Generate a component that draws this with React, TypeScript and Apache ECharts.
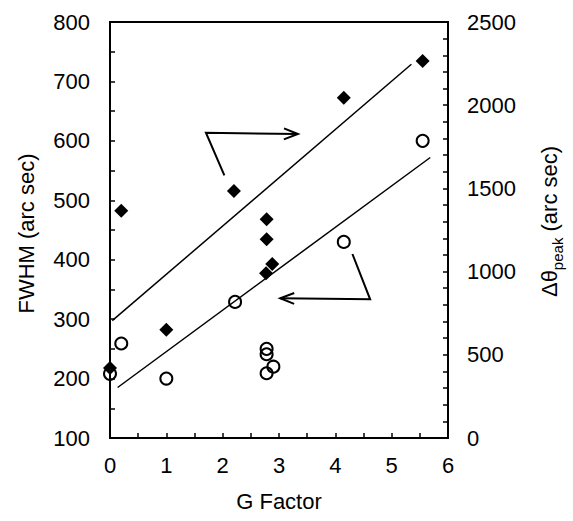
import React, { useEffect, useRef } from "react";
import * as echarts from "echarts";

// G factor (x) and values
const diamondG = [0, 0.2, 1.0, 2.2, 2.78, 2.78, 2.88, 2.77, 4.15, 5.55];
const diamondPeak = [420, 1365, 650, 1485, 1315, 1195, 1045, 990, 2045, 2265];
const circleG = [0, 0.2, 1.0, 2.22, 2.78, 2.78, 2.9, 2.78, 4.15, 5.55];
const circleFwhm = [208, 259, 200, 329, 250, 241, 220, 209, 430, 600];

// fit lines
const fitPeakG = [0.04, 5.35];
const fitPeakV = [705, 2246];
const fitFwhmG = [0.135, 5.685];
const fitFwhmV = [185, 572];

// annotation arrows (in G / FWHM data units)
const arrowUpper = [[2.03, 542], [1.703, 613.7], [3.336, 611.5]];
const arrowLower = [[4.303, 409.6], [4.618, 333.4], [3.021, 335.1]];

const FONT = "Liberation Sans, Arial, sans-serif";

export default function App() {
  const ref = useRef<HTMLDivElement>(null);
  useEffect(() => {
    if (!ref.current) return;
    const chart = echarts.init(ref.current, null, { renderer: "svg" });
    const tickStyle = { color: "#000", width: 1.5 };
    const axisBase = {
      type: "value" as const,
      axisLine: { show: true, onZero: false, lineStyle: { color: "#000", width: 2 } },
      axisTick: { show: true, inside: true, length: 5, lineStyle: tickStyle },
      splitLine: { show: false },
      minorSplitLine: { show: false },
      nameTextStyle: { fontFamily: FONT, fontSize: 22, color: "#000" },
    };
    const plain = (v: number) => String(v);
    const labelBase = { fontFamily: FONT, fontSize: 22, color: "#000", formatter: plain };
    chart.setOption({
      animation: false,
      backgroundColor: "#fff",
      grid: { left: 110, right: 120, top: 22, bottom: 83, show: true, borderColor: "#000", borderWidth: 2, containLabel: false },
      xAxis: {
        ...axisBase,
        min: 0,
        max: 6,
        interval: 1,
        minorTick: { show: true, splitNumber: 2, length: 5, lineStyle: tickStyle },
        axisLabel: { ...labelBase, margin: 16 },
        name: "G Factor",
        nameLocation: "middle",
        nameGap: 52,
      },
      yAxis: [
        {
          ...axisBase,
          position: "left",
          min: 100,
          max: 800,
          interval: 100,
          minorTick: { show: true, splitNumber: 2, length: 5, lineStyle: tickStyle },
          axisLabel: { ...labelBase, margin: 20 },
          name: "FWHM (arc sec)",
          nameLocation: "middle",
          nameRotate: 90,
          nameGap: 73,
          nameTextStyle: { fontFamily: FONT, fontSize: 22, color: "#000", padding: [0, 7, 0, 0] },
        },
        {
          ...axisBase,
          position: "right",
          min: 0,
          max: 2500,
          interval: 500,
          minorTick: { show: true, splitNumber: 5, length: 5, lineStyle: tickStyle },
          axisLabel: { ...labelBase, margin: 19 },
          name: "{m|Δθ}{s|peak}{m| (arc sec)}",
          nameLocation: "middle",
          nameRotate: 90,
          nameGap: 90,
          nameTextStyle: {
            fontFamily: FONT,
            fontSize: 22,
            color: "#000",
            padding: [0, 0, 0, 17],
            rich: {
              m: { fontFamily: FONT, fontSize: 22, color: "#000", lineHeight: 26, verticalAlign: "top" },
              s: { fontFamily: FONT, fontSize: 15, color: "#000", lineHeight: 15, padding: [12, 0, 0, 0], verticalAlign: "top" },
            },
          },
        },
      ],
      series: [
        {
          type: "line",
          yAxisIndex: 1,
          data: fitPeakG.map((g, i) => [g, fitPeakV[i]]),
          showSymbol: false,
          symbol: "none",
          lineStyle: { color: "#000", width: 1.5 },
          silent: true,
        },
        {
          type: "line",
          yAxisIndex: 0,
          data: fitFwhmG.map((g, i) => [g, fitFwhmV[i]]),
          showSymbol: false,
          symbol: "none",
          lineStyle: { color: "#000", width: 1.5 },
          silent: true,
        },
        {
          type: "scatter",
          yAxisIndex: 0,
          symbol: "circle",
          symbolSize: 12,
          itemStyle: { color: "transparent", borderColor: "#000", borderWidth: 2, opacity: 1 },
          data: circleG.map((g, i) => [g, circleFwhm[i]]),
        },
        {
          type: "scatter",
          yAxisIndex: 1,
          symbol: "diamond",
          symbolSize: 14,
          itemStyle: { color: "#000", opacity: 1 },
          data: diamondG.map((g, i) => [g, diamondPeak[i]]),
        },
      ],
    });

    const toPx = (p: number[]) =>
      chart.convertToPixel({ xAxisIndex: 0, yAxisIndex: 0 }, p) as number[];
    const makeArrow = (pts: number[][]) => {
      const px = pts.map(toPx);
      const tip = px[px.length - 1];
      const prev = px[px.length - 2];
      const dx = tip[0] - prev[0];
      const dy = tip[1] - prev[1];
      const len = Math.hypot(dx, dy) || 1;
      const ux = dx / len;
      const uy = dy / len;
      const nx = -uy;
      const ny = ux;
      const back = 14;
      const half = 5.5;
      const w1 = [tip[0] - back * ux + half * nx, tip[1] - back * uy + half * ny];
      const w2 = [tip[0] - back * ux - half * nx, tip[1] - back * uy - half * ny];
      return [
        { type: "polyline", shape: { points: px }, style: { stroke: "#000", lineWidth: 2, fill: "none" }, z: 100 },
        { type: "polyline", shape: { points: [w1, tip, w2] }, style: { stroke: "#000", lineWidth: 2, fill: "none" }, z: 100 },
      ];
    };
    chart.setOption({ graphic: [...makeArrow(arrowUpper), ...makeArrow(arrowLower)] });

    return () => chart.dispose();
  }, []);
  return (
    <div
      ref={ref}
      style={{ position: "fixed", left: 0, top: 0, width: 573, height: 521, background: "#fff" }}
    />
  );
}
